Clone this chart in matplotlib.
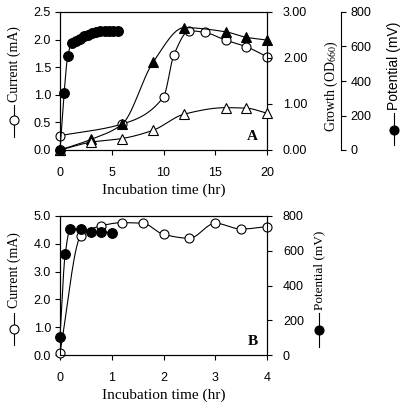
import numpy as np
import matplotlib
matplotlib.use("Agg")
import matplotlib.pyplot as plt
from matplotlib.lines import Line2D

plt.rcParams['font.family'] = 'Liberation Sans'
plt.rcParams['mathtext.fontset'] = 'stix'

SERIF = 'Liberation Serif'

# ---- panel A data ----
a_pot_t = [0, 0.4, 0.75, 1.15, 1.5, 1.9, 2.3, 2.7, 3.1, 3.5, 3.9, 4.3, 4.7, 5.1, 5.6]
a_pot_mv = [0, 333, 545, 620, 632, 645, 658, 668, 678, 685, 688, 688, 688, 688, 688]

a_cur_t = [0, 6, 10, 11, 12.5, 14, 16, 18, 20]
a_cur_ma = [0.26, 0.47, 0.96, 1.72, 2.16, 2.13, 1.99, 1.87, 1.69]

a_od_filled_t = [0, 3, 6, 9, 12, 16, 18, 20]
a_od_filled = [0.0, 0.23, 0.56, 1.91, 2.66, 2.57, 2.45, 2.39]

a_od_open_t = [0, 3, 6, 9, 12, 16, 18, 20]
a_od_open = [0.0, 0.17, 0.25, 0.43, 0.78, 0.92, 0.91, 0.80]

# ---- panel B data ----
b_cur_t = [0, 0.4, 0.8, 1.2, 1.6, 2.0, 2.5, 3.0, 3.5, 4.0]
b_cur_ma = [0.08, 4.27, 4.65, 4.76, 4.74, 4.34, 4.20, 4.74, 4.53, 4.62]

b_pot_t = [0, 0.1, 0.2, 0.4, 0.6, 0.8, 1.0]
b_pot_mv = [105, 580, 724, 724, 708, 708, 705]

a_cur_ticks = [0, 0.5, 1.0, 1.5, 2.0, 2.5]
a_od_ticks = [0, 1, 2, 3]
pot_ticks = [0, 200, 400, 600, 800]
b_cur_ticks = [0, 1, 2, 3, 4, 5]


def smooth(x, y, n=300):
    # monotone cubic (pchip) curve through the points, for the connecting line
    x = np.asarray(x, float)
    y = np.asarray(y, float)
    h = np.diff(x)
    d = np.diff(y) / h
    m = np.zeros_like(y)
    m[0], m[-1] = d[0], d[-1]
    for k in range(1, len(x) - 1):
        if d[k - 1] * d[k] > 0:
            w1 = 2 * h[k] + h[k - 1]
            w2 = h[k] + 2 * h[k - 1]
            m[k] = (w1 + w2) / (w1 / d[k - 1] + w2 / d[k])
    xs = np.linspace(x[0], x[-1], n)
    i = np.clip(np.searchsorted(x, xs) - 1, 0, len(h) - 1)
    t = (xs - x[i]) / h[i]
    ys = ((2 * t**3 - 3 * t**2 + 1) * y[i] + (t**3 - 2 * t**2 + t) * h[i] * m[i]
          + (-2 * t**3 + 3 * t**2) * y[i + 1] + (t**3 - t**2) * h[i] * m[i + 1])
    return xs, ys


def series(ax, x, y, marker, fill, ms=6.5):
    xs, ys = smooth(x, y)
    ax.plot(xs, ys, color='black', lw=0.8, clip_on=False, zorder=2)
    ax.plot(x, y, ls='none', marker=marker, ms=ms, mfc=fill, mec='black',
            mew=0.8, clip_on=False, zorder=3)


W, H = 405, 409


def box(l, t, r, b):
    return [l / W, 1 - b / H, (r - l) / W, (b - t) / H]


def fx(px):
    return px / W


def fy(py):
    return 1 - py / H


def label_key(x, y0, y1, yc, fill):
    fig.add_artist(Line2D([fx(x), fx(x)], [fy(y0), fy(y1)], color='black', lw=0.8,
                          transform=fig.transFigure))
    fig.add_artist(Line2D([fx(x)], [fy(yc)], marker='o', ms=6.5, mfc=fill, mec='black',
                          mew=0.8, transform=fig.transFigure))


tick_kw = dict(direction='out', length=3.5, width=0.8, labelsize=9, pad=3)

fig = plt.figure(figsize=(4.05, 4.09), dpi=100)

# ================= panel A =================
axA = fig.add_axes(box(60, 12, 267, 150))
axG = axA.twinx()
axP = axA.twinx()

axA.set_xlim(0, 20)
axA.set_ylim(0, 2.5)
axG.set_ylim(0, 3)
axP.set_ylim(0, 800)

series(axA, a_cur_t, a_cur_ma, 'o', 'white')
series(axG, a_od_filled_t, a_od_filled, '^', 'black', ms=7)
series(axG, a_od_open_t, a_od_open, '^', 'white', ms=7)
series(axP, a_pot_t, a_pot_mv, 'o', 'black', ms=7)

axA.set_xticks([0, 5, 10, 15, 20])
axA.set_yticks(a_cur_ticks)
axA.set_yticklabels([f"{v:.1f}" for v in a_cur_ticks])
axG.set_yticks(a_od_ticks)
axG.set_yticklabels([f"{v:.2f}" for v in a_od_ticks])
axP.set_yticks(pot_ticks)

axA.tick_params(**tick_kw)
axA.tick_params(axis='x', pad=9)
axG.tick_params(**tick_kw)
axG.tick_params(pad=8)
axP.tick_params(**tick_kw)

axP.spines['right'].set_position(('outward', 53.5))
for s in ['top', 'left', 'bottom']:
    axP.spines[s].set_visible(False)
for a in (axA, axG, axP):
    for s in a.spines.values():
        s.set_linewidth(0.8)

axA.set_xlabel('Incubation time (hr)', family=SERIF, fontsize=11, labelpad=3)
axA.text(0.93, 0.1, 'A', transform=axA.transAxes, family=SERIF, fontweight='bold',
         fontsize=11, ha='center', va='center')

fig.text(fx(14), fy(64), 'Current (mA)', family=SERIF, fontsize=10, rotation=90,
         ha='center', va='center')
label_key(14, 105, 137, 120, 'white')
fig.text(fx(331), fy(86), 'Growth (OD$_{660}$)', family=SERIF, fontsize=10, rotation=90,
         ha='center', va='center')
fig.text(fx(394), fy(66), 'Potential (mV)', fontsize=10, rotation=90,
         ha='center', va='center')
label_key(394, 113, 145, 130, 'black')

# ================= panel B =================
axB = fig.add_axes(box(60, 216, 267, 355))
axBP = axB.twinx()
axB.set_xlim(0, 4)
axB.set_ylim(0, 5)
axBP.set_ylim(0, 800)

series(axB, b_cur_t, b_cur_ma, 'o', 'white')
series(axBP, b_pot_t, b_pot_mv, 'o', 'black', ms=7)

axB.set_xticks([0, 1, 2, 3, 4])
axB.set_yticks(b_cur_ticks)
axB.set_yticklabels([f"{v:.1f}" for v in b_cur_ticks])
axBP.set_yticks(pot_ticks)
axB.tick_params(**tick_kw)
axB.tick_params(axis='x', pad=9)
axBP.tick_params(**tick_kw)
axBP.tick_params(pad=8)
for a in (axB, axBP):
    for s in a.spines.values():
        s.set_linewidth(0.8)

axB.set_xlabel('Incubation time (hr)', family=SERIF, fontsize=11, labelpad=3)
axB.text(0.93, 0.1, 'B', transform=axB.transAxes, family=SERIF, fontweight='bold',
         fontsize=11, ha='center', va='center')

fig.text(fx(14), fy(270), 'Current (mA)', family=SERIF, fontsize=10, rotation=90,
         ha='center', va='center')
label_key(14, 313, 345, 329, 'white')
fig.text(fx(319), fy(270), 'Potential (mV)', family=SERIF, fontsize=9.5, rotation=90,
         ha='center', va='center')
label_key(319, 313, 347, 330, 'black')

fig.savefig('out.png', dpi=100)
